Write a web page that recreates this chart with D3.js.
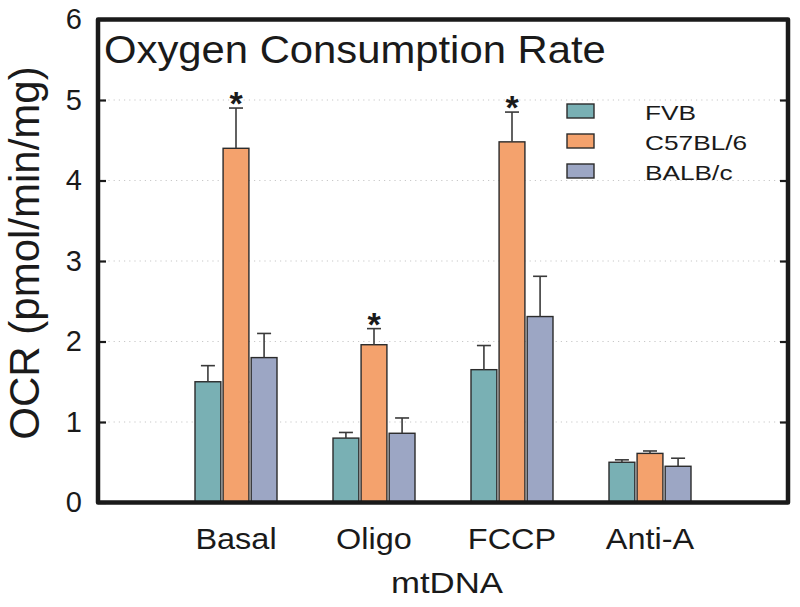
<!DOCTYPE html>
<html>
<head>
<meta charset="utf-8">
<script src="https://cdn.jsdelivr.net/npm/d3@7"></script>
<style>
  html, body { margin: 0; padding: 0; background: #fff; }
  text { font-family: "Liberation Sans", Arial, Helvetica, sans-serif; fill: #1a1a1a; }
</style>
</head>
<body>
<svg id="chart" width="800" height="607"></svg>
<script>
// ---- data ----
const categories = ["Basal", "Oligo", "FCCP", "Anti-A"];
const series = ["FVB", "C57BL/6", "BALB/c"];
const valuesFVB  = [1.50, 0.80, 1.65, 0.50];
const valuesC57  = [4.40, 1.96, 4.48, 0.61];
const valuesBALB = [1.80, 0.86, 2.31, 0.45];
const errFVB  = [0.20, 0.07, 0.30, 0.03];
const errC57  = [0.50, 0.20, 0.37, 0.03];
const errBALB = [0.30, 0.19, 0.50, 0.10];
const significant = [["Basal", "C57BL/6"], ["Oligo", "C57BL/6"], ["FCCP", "C57BL/6"]];
const yTicks = [0, 1, 2, 3, 4, 5, 6];
const gridTicks = [1, 2, 3, 4, 5];
const colors = ["#79b0b4", "#f4a26d", "#9ca6c4"];
const title = "Oxygen Consumption Rate";
const yTitle = "OCR (pmol/min/mg)";
const xTitle = "mtDNA";

const allValues = [valuesFVB, valuesC57, valuesBALB];
const allErrors = [errFVB, errC57, errBALB];
const rows = [];
categories.forEach((c, i) => series.forEach((s, j) => {
  rows.push({cat: c, ser: s, v: allValues[j][i], e: allErrors[j][i], color: colors[j]});
}));

// ---- layout ----
const svg = d3.select("#chart");
const L = 98, R = 788, T = 19.5, B = 502.5;
const x = d3.scalePoint().domain(categories).range([L, R]).padding(1);
const x1 = d3.scaleBand().domain(series).range([-41, 41]).paddingInner(0.08);
const y = d3.scaleLinear().domain([0, 6]).range([B, T]);

// grid
svg.append("g").selectAll("line").data(gridTicks).join("line")
  .attr("x1", L).attr("x2", R)
  .attr("y1", d => y(d)).attr("y2", d => y(d))
  .attr("stroke", "#c8c8c8").attr("stroke-width", 1.2)
  .attr("stroke-dasharray", "1.2,4");

// bars
const bars = svg.append("g");
bars.selectAll("rect").data(rows).join("rect")
  .attr("x", d => x(d.cat) + x1(d.ser))
  .attr("width", x1.bandwidth())
  .attr("y", d => y(d.v))
  .attr("height", d => y(0) - y(d.v))
  .attr("fill", d => d.color)
  .attr("stroke", "#2b2b2b").attr("stroke-width", 1.4);

// error bars
const eb = svg.append("g").attr("stroke", "#3a3a3a").attr("stroke-width", 1.6);
eb.selectAll("line.v").data(rows).join("line").attr("class", "v")
  .attr("x1", d => x(d.cat) + x1(d.ser) + x1.bandwidth() / 2)
  .attr("x2", d => x(d.cat) + x1(d.ser) + x1.bandwidth() / 2)
  .attr("y1", d => y(d.v)).attr("y2", d => y(d.v + d.e));
eb.selectAll("line.c").data(rows).join("line").attr("class", "c")
  .attr("x1", d => x(d.cat) + x1(d.ser) + x1.bandwidth() / 2 - 7)
  .attr("x2", d => x(d.cat) + x1(d.ser) + x1.bandwidth() / 2 + 7)
  .attr("y1", d => y(d.v + d.e)).attr("y2", d => y(d.v + d.e));

// significance stars
svg.append("g").selectAll("text").data(significant).join("text")
  .attr("x", d => x(d[0]) + x1(d[1]) + x1.bandwidth() / 2)
  .attr("y", d => {
    const r = rows.find(q => q.cat === d[0] && q.ser === d[1]);
    return y(r.v + r.e) + 7;
  })
  .attr("text-anchor", "middle")
  .attr("font-size", 34).attr("font-weight", "bold")
  .text("*");

// axes ticks (inward)
const yAxisL = svg.append("g").attr("transform", `translate(${L},0)`)
  .call(d3.axisLeft(y).tickValues(yTicks).tickSize(-8).tickPadding(16).tickFormat(d3.format("d")));
yAxisL.select(".domain").remove();
yAxisL.selectAll(".tick line").attr("stroke", "#1a1a1a").attr("stroke-width", 2.2);
yAxisL.selectAll(".tick text").attr("font-size", 29).attr("fill", "#1a1a1a")
  .attr("font-family", "Liberation Sans, Arial, sans-serif");

const yAxisR = svg.append("g").attr("transform", `translate(${R},0)`)
  .call(d3.axisRight(y).tickValues(yTicks).tickSize(-8).tickFormat(""));
yAxisR.select(".domain").remove();
yAxisR.selectAll(".tick line").attr("stroke", "#1a1a1a").attr("stroke-width", 2.2);

// frame
svg.append("rect").attr("x", L).attr("y", T).attr("width", R - L).attr("height", B - T)
  .attr("fill", "none").attr("stroke", "#1a1a1a").attr("stroke-width", 4.5)
  .attr("stroke-linejoin", "round");

// x category labels
svg.append("g").selectAll("text").data(categories).join("text")
  .attr("transform", d => `translate(${x(d)},549) scale(1.12,1)`)
  .attr("text-anchor", "middle").attr("font-size", 29)
  .text(d => d);

// axis titles
svg.append("text")
  .attr("transform", "translate(447,593) scale(1.2,1)")
  .attr("text-anchor", "middle").attr("font-size", 29).text(xTitle);

svg.append("text")
  .attr("transform", "translate(39,253) rotate(-90)")
  .attr("text-anchor", "middle").attr("font-size", 42).text(yTitle);

// title
svg.append("text")
  .attr("transform", "translate(104,63) scale(1.1,1)")
  .attr("font-size", 38).text(title);

// legend
const leg = svg.append("g");
const legItems = leg.selectAll("g").data(series).join("g")
  .attr("transform", (d, i) => `translate(567,${104 + i * 30})`);
legItems.append("rect").attr("width", 27).attr("height", 14)
  .attr("fill", (d, i) => colors[i]).attr("stroke", "#2b2b2b").attr("stroke-width", 1.4);
legItems.append("text")
  .attr("transform", "translate(78,16) scale(1.25,1)")
  .attr("font-size", 21).text(d => d);
</script>
</body>
</html>
